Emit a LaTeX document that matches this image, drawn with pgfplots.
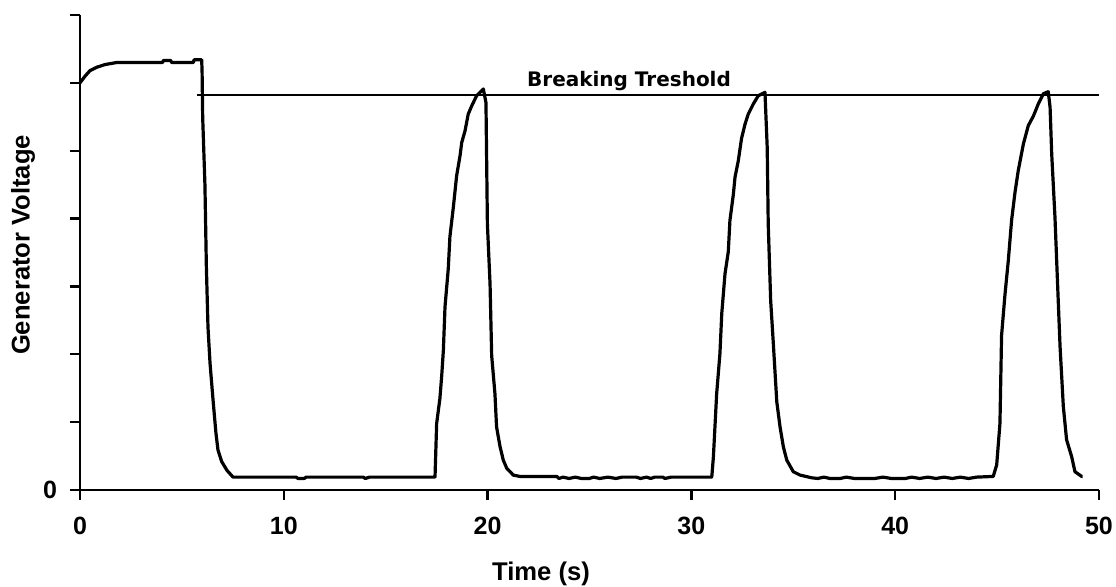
\documentclass[border=0pt]{standalone}
\usepackage{fontspec}
\setmainfont{Liberation Sans}
\newfontfamily\dvs{DejaVu Sans}
\usepackage{pgfplots}
\pgfplotsset{compat=1.18}

\begin{document}
\begin{tikzpicture}
% 1 px of the reference = 0.5pt
\useasboundingbox (-40pt,-48pt) rectangle (518pt,245pt);
\begin{axis}[
  at={(0,0)}, anchor=south west,
  scale only axis, width=509.5pt, height=237.5pt,
  xmin=0, xmax=50, ymin=0, ymax=7,
  axis lines=left,
  axis line style={-, line width=1.2pt},
  xtick={0,10,...,50},
  ytick={0,...,7}, yticklabels={0,,,,,,,},
  tick align=outside, major tick length=5pt,
  tick style={line width=1.2pt, black},
  /pgf/number format/assume math mode=true,
  ticklabel style={font=\bfseries\fontsize{12.5}{14}\selectfont},
  xticklabel style={anchor=north, yshift=-5pt},
  yticklabel style={anchor=east, xshift=-3pt},
  label style={font=\bfseries\fontsize{12.8}{14}\selectfont},
  xlabel={Time (s)},
  xlabel style={at={(axis description cs:0.4524,0)}, anchor=center, yshift=-42pt},
  ylabel={Generator Voltage},
  ylabel style={at={(axis description cs:-0.0559,0.516)}, anchor=center},
  clip=false,
]
% breaking threshold
\addplot[black, line width=1pt] coordinates {(5.74,5.82) (50,5.82)};
% generator voltage trace
\addplot[black, line width=1.6pt, line join=round] coordinates {
  (0,6.00) (0.25,6.10) (0.49,6.18) (0.82,6.23) (1.23,6.27) (1.80,6.30)
  (4.05,6.30) (4.09,6.33) (4.45,6.33) (4.50,6.30) (5.56,6.30) (5.60,6.34)
  (5.97,6.34) (5.99,6.18) (6.02,5.49) (6.13,4.50) (6.20,3.30) (6.28,2.40)
  (6.38,1.87) (6.53,1.32) (6.67,0.84) (6.77,0.59) (6.95,0.42) (7.21,0.29)
  (7.51,0.19)
  (8.0,0.19) (10.6,0.19) (10.7,0.17) (11.0,0.17) (11.1,0.19) (13.9,0.19)
  (14.0,0.17) (14.2,0.19) (17.42,0.19)
  (17.50,0.98) (17.66,1.35) (17.75,1.69) (17.83,2.06) (17.91,2.70)
  (18.07,3.26) (18.15,3.73) (18.32,4.17) (18.48,4.63) (18.65,4.93)
  (18.73,5.12) (18.89,5.29) (19.05,5.54) (19.22,5.66) (19.46,5.81)
  (19.79,5.91) (19.92,5.71) (19.99,3.92) (20.12,3.04) (20.20,1.98)
  (20.36,1.42) (20.44,0.93) (20.61,0.64) (20.77,0.44) (20.94,0.32)
  (21.26,0.22) (21.59,0.20)
  (23.4,0.20) (23.5,0.17) (23.7,0.19) (24.0,0.17) (24.3,0.19) (24.6,0.17)
  (25.0,0.17) (25.2,0.19) (25.5,0.17) (25.9,0.19) (26.3,0.17) (26.6,0.19)
  (27.3,0.19) (27.5,0.17) (27.8,0.19) (28.0,0.17) (28.2,0.19) (28.6,0.19)
  (28.7,0.17) (29.0,0.19) (31.0,0.19)
  (31.08,0.49) (31.24,1.42) (31.40,2.01) (31.49,2.60) (31.65,3.19)
  (31.81,3.51) (31.89,3.97) (32.06,4.36) (32.14,4.61) (32.30,4.85)
  (32.46,5.18) (32.63,5.39) (32.79,5.54) (33.04,5.69) (33.28,5.81)
  (33.61,5.86) (33.72,5.05) (33.77,3.92) (33.89,2.79) (34.02,2.16)
  (34.19,1.30) (34.35,0.93) (34.51,0.64) (34.68,0.44) (35.00,0.27)
  (35.33,0.22) (35.9,0.18)
  (36.2,0.17) (36.5,0.19) (36.8,0.17) (37.3,0.17) (37.6,0.19) (38.0,0.17)
  (39.0,0.17) (39.4,0.19) (39.8,0.17) (40.5,0.17) (40.8,0.19) (41.2,0.17)
  (41.6,0.19) (42.0,0.17) (42.4,0.19) (42.8,0.17) (43.2,0.19) (43.6,0.17)
  (44.0,0.19) (44.81,0.20)
  (44.98,0.37) (45.14,0.98) (45.22,2.28) (45.39,2.89) (45.55,3.38)
  (45.71,3.97) (45.88,4.39) (46.04,4.71) (46.29,5.10) (46.53,5.37)
  (46.78,5.51) (47.02,5.69) (47.27,5.84) (47.51,5.87) (47.60,5.64)
  (47.68,4.95) (47.84,4.02) (48.00,2.79) (48.09,2.11) (48.25,1.23)
  (48.41,0.74) (48.66,0.49) (48.82,0.27) (49.15,0.20) (49.20,0.20)
};
\node[font=\dvs\bfseries\fontsize{10}{11}\selectfont, anchor=base]
  at (axis cs:26.94,5.94) {Breaking Treshold};
\end{axis}
\end{tikzpicture}
\end{document}
